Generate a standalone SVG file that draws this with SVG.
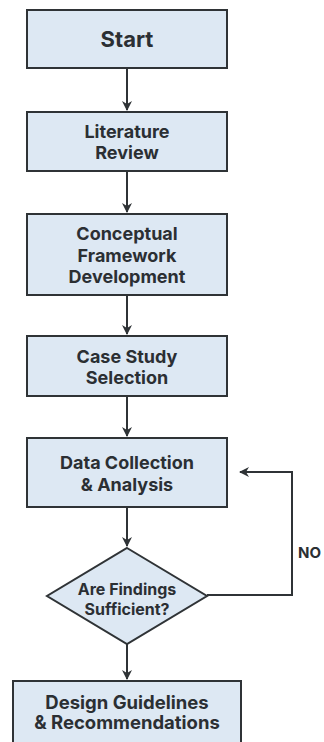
<svg xmlns="http://www.w3.org/2000/svg" width="324" height="742" viewBox="0 0 324 742">
<style>
.box{fill:#dde8f3;stroke:#2f3336;stroke-width:2}
.t{font-family:Inter,"Liberation Sans",Arial,sans-serif;font-weight:700;fill:#2b2f33;text-anchor:middle}
.c{fill:none;stroke:#2f3336;stroke-width:2}
</style>
<defs>
<marker id="ah" viewBox="0 0 10 10" refX="9" refY="5" markerWidth="5" markerHeight="5" orient="auto" markerUnits="strokeWidth">
<path d="M0,0 L10,5 L0,10 L3,5 Z" fill="#2f3336"/>
</marker>
</defs>
<rect width="324" height="742" fill="#ffffff"/>
<g id="connectors">
<line class="c" x1="127" y1="68" x2="127" y2="110" marker-end="url(#ah)"/>
<line class="c" x1="127" y1="171" x2="127" y2="212" marker-end="url(#ah)"/>
<line class="c" x1="127" y1="295" x2="127" y2="334" marker-end="url(#ah)"/>
<line class="c" x1="127" y1="396" x2="127" y2="436" marker-end="url(#ah)"/>
<line class="c" x1="127" y1="507" x2="127" y2="546" marker-end="url(#ah)"/>
<line class="c" x1="127" y1="644" x2="127" y2="679" marker-end="url(#ah)"/>
<polyline class="c" points="207,595 292,595 292,472 240,472" marker-end="url(#ah)"/>
<text class="t" x="298" y="558" style="text-anchor:start;font-size:15px">NO</text>
</g>
<g id="start">
<rect class="box" x="27" y="10" width="200" height="58"/>
<text class="t" x="127" y="47" font-size="22">Start</text>
</g>
<g id="literature">
<rect class="box" x="27" y="112" width="200" height="59"/>
<text class="t" x="127" y="138" font-size="18">Literature</text>
<text class="t" x="127" y="159" font-size="18">Review</text>
</g>
<g id="framework">
<rect class="box" x="27" y="214" width="200" height="81"/>
<text class="t" x="127" y="240" font-size="18">Conceptual</text>
<text class="t" x="127" y="262" font-size="18">Framework</text>
<text class="t" x="127" y="283" font-size="18">Development</text>
</g>
<g id="casestudy">
<rect class="box" x="27" y="336" width="200" height="60"/>
<text class="t" x="127" y="363" font-size="18">Case Study</text>
<text class="t" x="127" y="384" font-size="18">Selection</text>
</g>
<g id="datacollection">
<rect class="box" x="27" y="438" width="200" height="69"/>
<text class="t" x="127" y="469" font-size="18">Data Collection</text>
<text class="t" x="127" y="491" font-size="18">&amp; Analysis</text>
</g>
<g id="decision">
<polygon class="box" points="127,548 207,596 127,644 47,596"/>
<text class="t" x="127" y="595" font-size="16">Are Findings</text>
<text class="t" x="127" y="615" font-size="16">Sufficient?</text>
</g>
<g id="guidelines">
<rect class="box" x="13" y="681" width="228" height="80"/>
<text class="t" x="127" y="709" font-size="18.5">Design Guidelines</text>
<text class="t" x="127" y="729" font-size="18.5">&amp; Recommendations</text>
</g>
</svg>
